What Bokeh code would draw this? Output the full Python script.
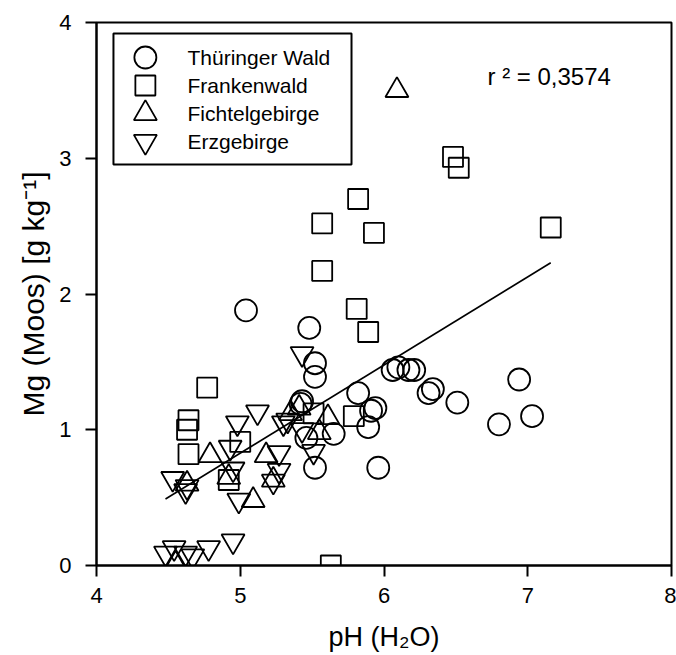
from bokeh.plotting import figure
from bokeh.models import Range1d, FixedTicker, BoxAnnotation, Label
from bokeh.embed import file_html
from bokeh.resources import INLINE
from bokeh.core.properties import value

# ---------------- data ----------------
x_ticks = [4, 5, 6, 7, 8]
y_ticks = [0, 1, 2, 3, 4]

# Thüringer Wald (circles)
tw_x = [5.04, 5.48, 5.52, 5.52, 5.82, 5.94, 5.91, 5.89, 5.42, 5.43, 5.46, 5.65,
        5.52, 5.96, 6.06, 6.10, 6.17, 6.21, 6.31, 6.34, 6.51, 6.94, 6.80, 7.03]
tw_y = [1.88, 1.75, 1.49, 1.39, 1.27, 1.16, 1.14, 1.02, 1.19, 1.21, 0.94, 0.97,
        0.72, 0.72, 1.44, 1.46, 1.44, 1.44, 1.27, 1.30, 1.20, 1.37, 1.04, 1.10]

# Frankenwald (squares)
fw_x = [6.48, 6.52, 5.82, 5.57, 5.93, 5.57, 5.81, 5.89, 7.16, 5.79, 4.77, 4.64,
        4.63, 4.64, 5.00, 4.92, 5.51, 5.63]
fw_y = [3.01, 2.93, 2.70, 2.52, 2.45, 2.17, 1.89, 1.72, 2.49, 1.10, 1.31, 1.07,
        1.00, 0.82, 0.91, 0.63, 1.12, 0.00]

# Fichtelgebirge (triangles up)
fg_x = [6.09, 4.79, 5.18, 4.92, 5.09, 5.23, 4.63, 5.35, 5.41, 5.61, 4.55, 5.55]
fg_y = [3.50, 0.81, 0.81, 0.65, 0.48, 0.63, 0.60, 1.12, 1.16, 1.09, 0.01, 0.98]

# Erzgebirge (triangles down)
ez_x = [5.43, 5.12, 4.98, 4.93, 4.95, 4.53, 4.63, 4.62, 4.99, 5.27, 5.27, 5.23,
        5.33, 5.43, 5.51, 4.95, 4.48, 4.54, 4.62, 4.67, 4.78, 5.30]
ez_y = [1.56, 1.13, 1.05, 0.87, 0.71, 0.64, 0.58, 0.55, 0.48, 0.83, 0.70, 0.62,
        1.07, 1.00, 0.84, 0.18, 0.09, 0.13, 0.09, 0.07, 0.13, 1.05]

# regression line end points
fit_x = [4.48, 7.16]
fit_y = [0.49, 2.23]

series_names = ["Thüringer Wald", "Frankenwald", "Fichtelgebirge", "Erzgebirge"]
series_markers = ["circle", "square", "triangle", "inverted_triangle"]
r2_text = "r ² = 0,3574"

FONT = "Liberation Sans"

# ---------------- figure ----------------
p = figure(width=676, height=655, output_backend="svg", toolbar_location=None,
           x_range=Range1d(4, 8), y_range=Range1d(0, 4),
           min_border_left=96, min_border_right=5, min_border_top=22,
           min_border_bottom=90)
p.xgrid.visible = False
p.ygrid.visible = False
p.outline_line_color = "black"
p.outline_line_width = 2
p.outline_line_alpha = 1.0
p.background_fill_color = "white"
p.border_fill_color = "white"

p.xaxis.ticker = FixedTicker(ticks=x_ticks)
p.yaxis.ticker = FixedTicker(ticks=y_ticks)
p.xaxis.axis_label = "pH (H₂O)"
p.yaxis.axis_label = "Mg (Moos) [g kg⁻¹]"
for ax in (p.xaxis[0], p.yaxis[0]):
    ax.axis_line_width = 2
    ax.axis_line_color = "black"
    ax.major_tick_line_width = 2
    ax.major_tick_line_color = "black"
    ax.major_tick_out = 11
    ax.major_tick_in = 0
    ax.minor_tick_out = 0
    ax.minor_tick_in = 0
    ax.major_label_text_font = FONT
    ax.major_label_text_font_size = "22px"
    ax.major_label_text_color = "black"
    ax.axis_label_text_font = FONT
    ax.axis_label_text_font_style = "normal"
    ax.axis_label_text_color = "black"
p.xaxis.major_label_standoff = 11
p.xaxis.axis_label_standoff = 16
p.xaxis.axis_label_text_font_size = "27px"
p.yaxis.major_label_standoff = 14
p.yaxis.axis_label_standoff = 6
p.yaxis.axis_label_text_font_size = "30px"

style = dict(fill_color=None, line_color="black", line_width=1.8)
p.scatter(tw_x, tw_y, marker="circle", size=22, **style)
p.scatter(fw_x, fw_y, marker="square", size=20, **style)
p.scatter(fg_x, fg_y, marker="triangle", size=23, **style)
p.scatter(ez_x, ez_y, marker="inverted_triangle", size=23, **style)

p.line(fit_x, fit_y, line_color="black", line_width=1.6)

# ---------------- legend (drawn by hand) ----------------
leg_left, leg_right, leg_top, leg_bottom = 4.118, 5.774, 3.919, 2.954
p.add_layout(BoxAnnotation(left=leg_left, right=leg_right, top=leg_top,
                           bottom=leg_bottom, fill_color=None, fill_alpha=0.0,
                           line_color="black", line_width=2, line_alpha=1.0))
row_y = [3.742, 3.536, 3.330, 3.123]
sizes = [22, 20, 23, 23]
for name, mk, ry, sz in zip(series_names, series_markers, row_y, sizes):
    p.scatter([4.34], [ry], marker=mk, size=sz, **style)
p.text(x=[4.633] * 4, y=row_y, text=series_names, text_font=value(FONT),
       text_font_size="21px", text_baseline="middle", text_align="left",
       text_color="black")

p.add_layout(Label(x=6.72, y=3.60, text=r2_text, text_font=FONT,
                   text_font_size="24px", text_baseline="middle",
                   text_color="black"))

open("out.html", "w").write(file_html(p, INLINE))
